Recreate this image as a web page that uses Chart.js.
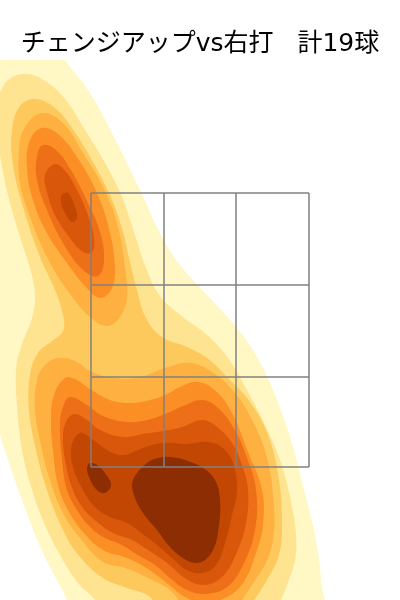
<!DOCTYPE html>
<html>
<head>
<meta charset="utf-8">
<script src="https://cdn.jsdelivr.net/npm/chart.js@4"></script>
<style>body{margin:0;background:#fff}</style>
</head>
<body>
<canvas id="chart" width="400" height="600"></canvas>
<script>
const titleText = 'チェンジアップvs右打   計19球';

// strike zone grid, in plot units
const zoneXs = [91, 164, 236, 309];
const zoneYs = [193, 285, 377, 467];

// density bands, lowest level first
const level1 = [[52,40],[65,60],[90,93],[114,137],[140,190],[160,233],[180,265],[208,296],[237,328],[257,357],[275,395],[291,440],[304,490],[315,535],[321,580],[321,630],[78,630],[67,600],[43,553],[22,500],[8,460],[-5,420],[-30,350],[-30,40]];
const level2 = [[23,74],[45,81],[65,99],[85,130],[105,163],[122,197],[135,235],[146,268],[160,296],[183,317],[207,335],[228,358],[248,392],[265,425],[280,460],[290,497],[296,535],[295,560],[287,585],[280,602],[265,630],[110,625],[95,600],[78,583],[60,555],[45,525],[32,490],[22,450],[17,405],[16,370],[21,347],[32,318],[35,297],[31,272],[20,237],[8,195],[0,155],[-6,120],[4,85]];
const level3 = [[35,99],[55,108],[74,131],[94,164],[112,200],[123,232],[130,262],[137,290],[146,318],[162,337],[187,347],[207,358],[228,378],[250,402],[268,435],[279,480],[282,525],[279,555],[267,580],[253,602],[235,630],[170,625],[150,597],[127,588],[103,578],[80,557],[63,530],[47,490],[36,450],[29,410],[30,375],[38,353],[52,341],[63,331],[63,315],[55,290],[40,257],[24,210],[13,165],[12,130],[20,106]];
const level4a = [[42,113],[63,123],[83,153],[103,187],[117,223],[125,267],[127,297],[120,317],[107,326],[90,317],[67,290],[47,257],[30,217],[20,183],[19,150],[25,127]];
const level4b = [[58,358],[75,361],[92,372],[115,378],[140,377],[165,368],[190,363],[215,374],[238,397],[257,430],[268,462],[273,495],[274,530],[268,558],[254,582],[242,600],[225,625],[195,625],[173,593],[150,579],[125,568],[103,562],[80,538],[63,513],[50,480],[41,445],[35,410],[37,380],[45,365]];
const level5a = [[42,128],[58,134],[77,157],[97,193],[110,233],[115,270],[111,290],[100,298],[86,287],[67,263],[47,233],[33,200],[27,167],[30,140]];
const level5b = [[65,378],[75,379],[90,389],[110,400],[130,403],[150,400],[165,395],[180,387],[198,382],[217,392],[233,415],[248,452],[262,490],[263,525],[257,550],[243,583],[225,598],[203,603],[185,597],[168,584],[148,569],[127,558],[103,550],[83,532],[68,510],[58,485],[53,450],[51,420],[54,395]];
const level6a = [[43,145],[57,151],[72,172],[88,203],[100,232],[104,260],[98,276],[83,270],[63,243],[47,210],[37,180],[37,157]];
const level6b = [[70,397],[87,405],[103,416],[127,422],[147,420],[165,414],[183,406],[202,400],[217,407],[233,427],[246,455],[256,490],[255,530],[243,565],[227,587],[205,594],[187,590],[170,578],[155,565],[138,555],[120,544],[105,538],[90,527],[77,510],[67,490],[62,460],[60,425],[63,407]];
const level7a = [[55,164],[66,172],[78,192],[88,215],[94,238],[92,252],[83,252],[70,238],[55,215],[47,192],[45,175]];
const level7b = [[75,414],[87,420],[100,430],[123,437],[143,434],[163,431],[182,427],[202,420],[217,427],[232,443],[242,465],[248,490],[246,523],[237,552],[222,577],[203,585],[185,578],[167,563],[148,550],[132,540],[113,533],[97,522],[83,508],[73,490],[66,465],[63,437],[67,420]];
const level8a = [[62,195],[68,193],[75,207],[77,218],[72,222],[65,213],[61,202]];
const level8b = [[80,433],[88,436],[100,445],[113,453],[125,455],[143,448],[163,443],[187,444],[208,442],[223,448],[233,463],[237,490],[232,515],[225,543],[216,565],[203,573],[187,570],[172,558],[157,545],[140,532],[125,522],[110,517],[95,507],[83,490],[74,470],[71,455],[73,441]];
const level9a = [[90,463],[97,465],[105,473],[111,484],[108,491],[102,493],[95,488],[89,477],[87,468]];
const level9b = [[170,457],[185,460],[203,468],[215,480],[220,500],[218,533],[213,550],[205,560],[195,563],[183,558],[170,547],[157,530],[143,513],[134,495],[133,480],[147,463],[158,458]];

const bandColors = ['#fff8c4', '#fee391', '#fec95c', '#feb040', '#fb8f25', '#ed6f17', '#d9570a', '#c24703', '#8c2d04'];

// each band in paint order, with its colour index
const bands = [
  [level1, 0], [level2, 1], [level3, 2],
  [level4a, 3], [level4b, 3],
  [level5a, 4], [level5b, 4],
  [level6a, 5], [level6b, 5],
  [level7a, 6], [level7b, 6],
  [level8a, 7], [level8b, 7],
  [level9a, 8], [level9b, 8],
];

// wrap the ring round so the curve has no kink where it closes
function ring(points) {
  const n = points.length;
  const wrapped = [points[n - 1], ...points, points[0], points[1]];
  return wrapped.map(([x, y]) => ({ x, y }));
}

const datasets = [];
bands.forEach(([points, colorIdx]) => {
  datasets.push({
    data: ring(points),
    showLine: true,
    fill: 'shape',
    backgroundColor: bandColors[colorIdx],
    borderWidth: 0,
    pointRadius: 0,
    tension: 0.4,
  });
});

function zoneLine(a, b) {
  return {
    data: [{ x: a[0], y: a[1] }, { x: b[0], y: b[1] }],
    showLine: true,
    borderColor: '#808080',
    borderWidth: 1.5,
    pointRadius: 0,
    fill: false,
  };
}
zoneXs.forEach(x => datasets.push(zoneLine([x, zoneYs[0]], [x, zoneYs[3]])));
zoneYs.forEach(y => datasets.push(zoneLine([zoneXs[0], y], [zoneXs[3], y])));

// later entries go on top
datasets.forEach((d, i) => { d.order = datasets.length - i; });

new Chart(document.getElementById('chart'), {
  type: 'scatter',
  data: { datasets },
  options: {
    responsive: false,
    animation: false,
    layout: { padding: 0 },
    plugins: {
      legend: { display: false },
      tooltip: { enabled: false },
      title: {
        display: true,
        text: titleText,
        color: '#000',
        font: { family: '"DejaVu Sans", "Noto Sans CJK JP"', size: 25, weight: 'normal' },
        padding: { top: 29, bottom: 1 },
      },
    },
    scales: {
      x: { display: false, min: 0, max: 400 },
      y: { display: false, min: 60, max: 600, reverse: true },
    },
  },
});
</script>
</body>
</html>
